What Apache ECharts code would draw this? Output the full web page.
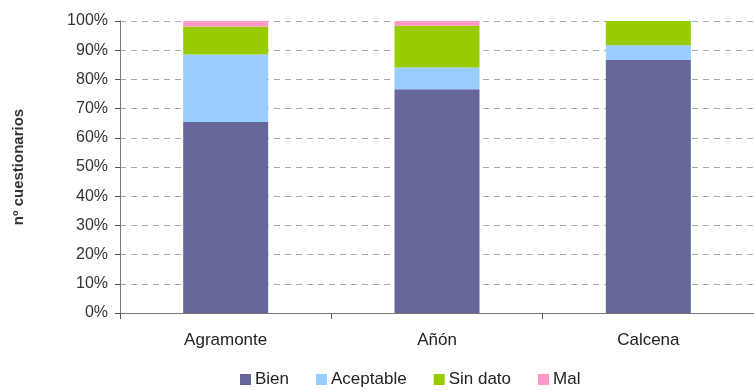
<!DOCTYPE html>
<html><head><meta charset="utf-8">
<script src="https://cdn.jsdelivr.net/npm/echarts@6/dist/echarts.min.js"></script>
<style>html,body{margin:0;padding:0;background:#fff}#c{width:754px;height:390px}</style>
</head><body><div id="c"></div>
<script>
const categories = ['Agramonte', 'Añón', 'Calcena'];
const bien = [65.4, 76.6, 86.7];
const aceptable = [23.1, 7.5, 5.0];
const sinDato = [9.6, 14.3, 8.3];
const mal = [1.9, 1.6, 0];
const yTicks = [0, 10, 20, 30, 40, 50, 60, 70, 80, 90, 100];

const font = 'Liberation Sans, Arial, sans-serif';
const chart = echarts.init(document.getElementById('c'));
function s(name, data, color) {
  return { name, type: 'bar', stack: 'a', data, barWidth: 85, itemStyle: { color }, emphasis: { disabled: true } };
}
chart.setOption({
  animation: false,
  grid: { left: 120, right: 0, top: 21, bottom: 77 },
  legend: {
    bottom: -3, left: 235, itemWidth: 11, itemHeight: 11, itemGap: 27, icon: 'rect',
    textStyle: { fontFamily: font, fontSize: 17, color: '#222', padding: [0, 0, 0, -1] },
    data: ['Bien', 'Aceptable', 'Sin dato', 'Mal']
  },
  xAxis: {
    type: 'category', data: categories,
    axisLine: { lineStyle: { color: '#777' } },
    axisTick: { show: true, alignWithLabel: false, length: 6, lineStyle: { color: '#555' } },
    axisLabel: { fontFamily: font, fontSize: 17, color: '#222', margin: 19 }
  },
  yAxis: {
    type: 'value', min: yTicks[0], max: yTicks[yTicks.length - 1], interval: 10,
    name: 'nº cuestionarios', nameLocation: 'middle', nameGap: 94, nameRotate: 90,
    nameTextStyle: { fontFamily: font, fontSize: 15, fontWeight: 'bold', color: '#333' },
    axisLine: { show: true, lineStyle: { color: '#777' } },
    axisTick: { show: true, length: 5, lineStyle: { color: '#555' } },
    axisLabel: { fontFamily: font, fontSize: 16, color: '#333', margin: 12, formatter: v => v + '%' },
    splitLine: { show: true, lineStyle: { color: '#aaa', type: [6, 5] } }
  },
  series: [
    s('Bien', bien, '#666699'),
    s('Aceptable', aceptable, '#99CCFF'),
    s('Sin dato', sinDato, '#99CC00'),
    s('Mal', mal, '#FF99CC')
  ]
});
</script></body></html>
